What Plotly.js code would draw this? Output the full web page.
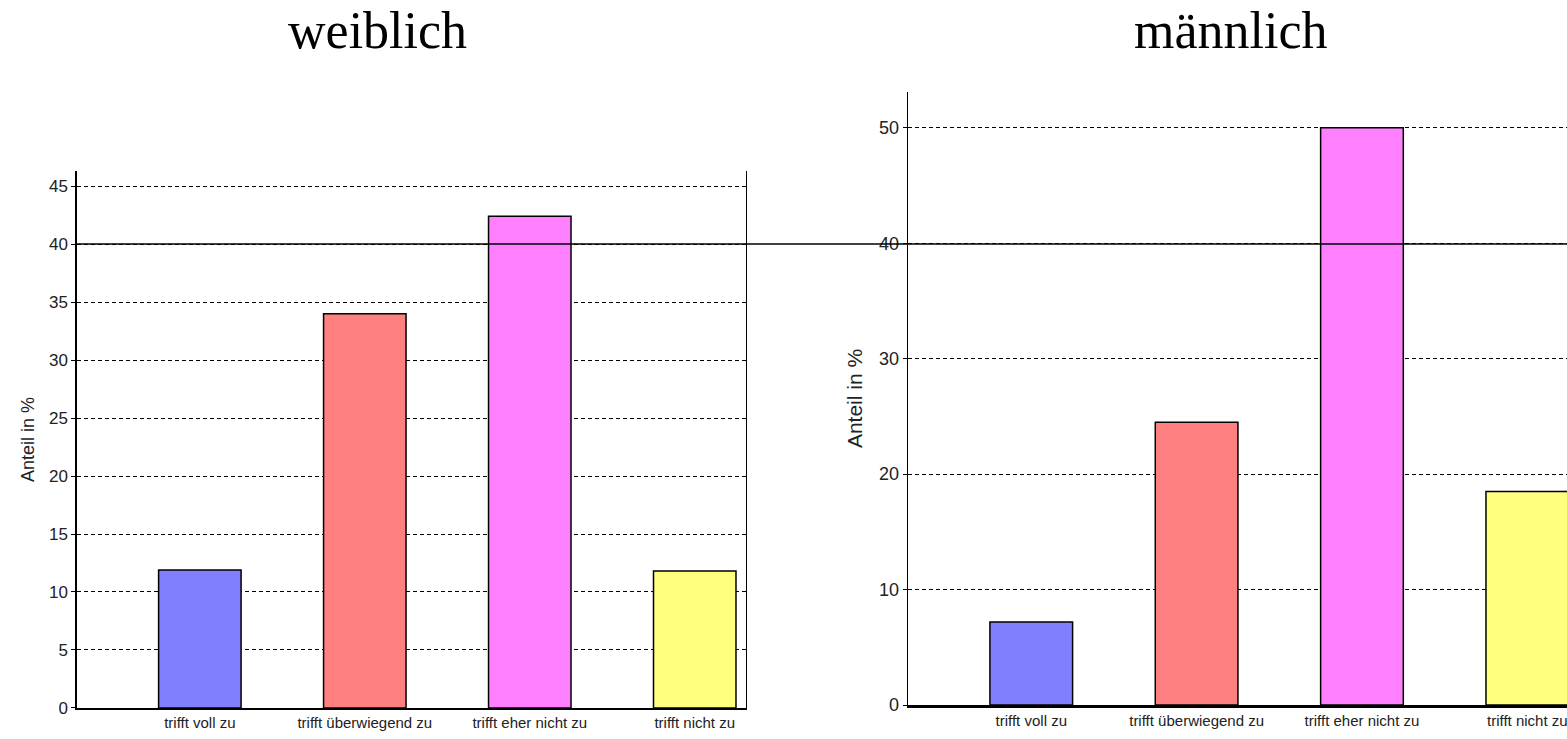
<!DOCTYPE html>
<html>
<head>
<meta charset="utf-8">
<script src="https://cdn.plot.ly/plotly-3.0.1.min.js"></script>
<style>html,body{margin:0;padding:0;background:#fff;}#chart{width:1567px;height:739px;}</style>
</head>
<body>
<div id="chart"></div>
<script>
const categories = ["trifft voll zu", "trifft überwiegend zu", "trifft eher nicht zu", "trifft nicht zu"];
const weiblichValues = [11.9, 34.0, 42.4, 11.8];
const maennlichValues = [7.2, 24.5, 50.0, 18.5];
const barColors = ["#8080FF", "#FF8080", "#FF80FF", "#FFFF80"];
const panelTitles = ["weiblich", "männlich"];
const yTitle = "Anteil in %";
const referenceLine = 40;

const sans = "Liberation Sans, Arial, sans-serif";
const tickFontY = {family: sans, size: 17, color: "#222"};
const tickFontX = {family: sans, size: 15, color: "#222"};

const traces = [
  {type: "bar", x: categories, y: weiblichValues, xaxis: "x", yaxis: "y", width: 0.5,
   marker: {color: barColors, line: {color: "#000", width: 1.5}}, hoverinfo: "x+y", showlegend: false},
  {type: "bar", x: categories, y: maennlichValues, xaxis: "x2", yaxis: "y2", width: 0.5,
   marker: {color: barColors, line: {color: "#000", width: 1.5}}, hoverinfo: "x+y", showlegend: false}
];

const gridCommon = {gridcolor: "#000", gridwidth: 1, griddash: "4px,3px", zeroline: false,
  showline: true, linecolor: "#000", linewidth: 1.5, ticks: "outside", ticklen: 4, tickcolor: "#000"};

const layout = {
  width: 1567, height: 739,
  margin: {l: 0, r: 0, t: 0, b: 0},
  paper_bgcolor: "#fff", plot_bgcolor: "#fff",
  bargap: 0.5,
  xaxis: {domain: [0.0491, 0.476], anchor: "y", type: "category", range: [-0.745, 3.31],
    showline: true, linecolor: "#000", linewidth: 2.5, ticks: "", tickfont: tickFontX, showgrid: false, fixedrange: true},
  yaxis: Object.assign({}, gridCommon, {domain: [0.042, 0.7686], anchor: "x", range: [0, 46.3], dtick: 5, mirror: true,
    tickfont: tickFontY,
    title: {text: yTitle, standoff: 10, font: {family: sans, size: 18, color: "#222"}}}),
  xaxis2: {domain: [0.5795, 1], anchor: "y2", type: "category", range: [-0.745, 3.24],
    showline: true, linecolor: "#000", linewidth: 2.5, ticks: "", tickfont: tickFontX, showgrid: false, fixedrange: true},
  yaxis2: Object.assign({}, gridCommon, {domain: [0.046, 0.8755], anchor: "x2", range: [0, 53.1], dtick: 10, mirror: false,
    tickfont: {family: sans, size: 18, color: "#222"},
    title: {text: yTitle, standoff: 10, font: {family: sans, size: 21, color: "#222"}}}),
  shapes: [
    {type: "line", xref: "paper", yref: "y", x0: 0.0491, x1: 1, y0: referenceLine, y1: referenceLine,
     line: {color: "#000", width: 1.5}, layer: "above"}
  ],
  annotations: [
    {text: panelTitles[0], xref: "paper", yref: "paper", x: 377/1567, y: 1 - 30/739, xanchor: "center", yanchor: "middle",
     showarrow: false, font: {family: "Liberation Serif, Times New Roman, serif", size: 52, color: "#000"}},
    {text: panelTitles[1], xref: "paper", yref: "paper", x: 1231/1567, y: 1 - 30/739, xanchor: "center", yanchor: "middle",
     showarrow: false, font: {family: "Liberation Serif, Times New Roman, serif", size: 52, color: "#000"}}
  ]
};

Plotly.newPlot("chart", traces, layout, {displayModeBar: false, staticPlot: true});
</script>
</body>
</html>
